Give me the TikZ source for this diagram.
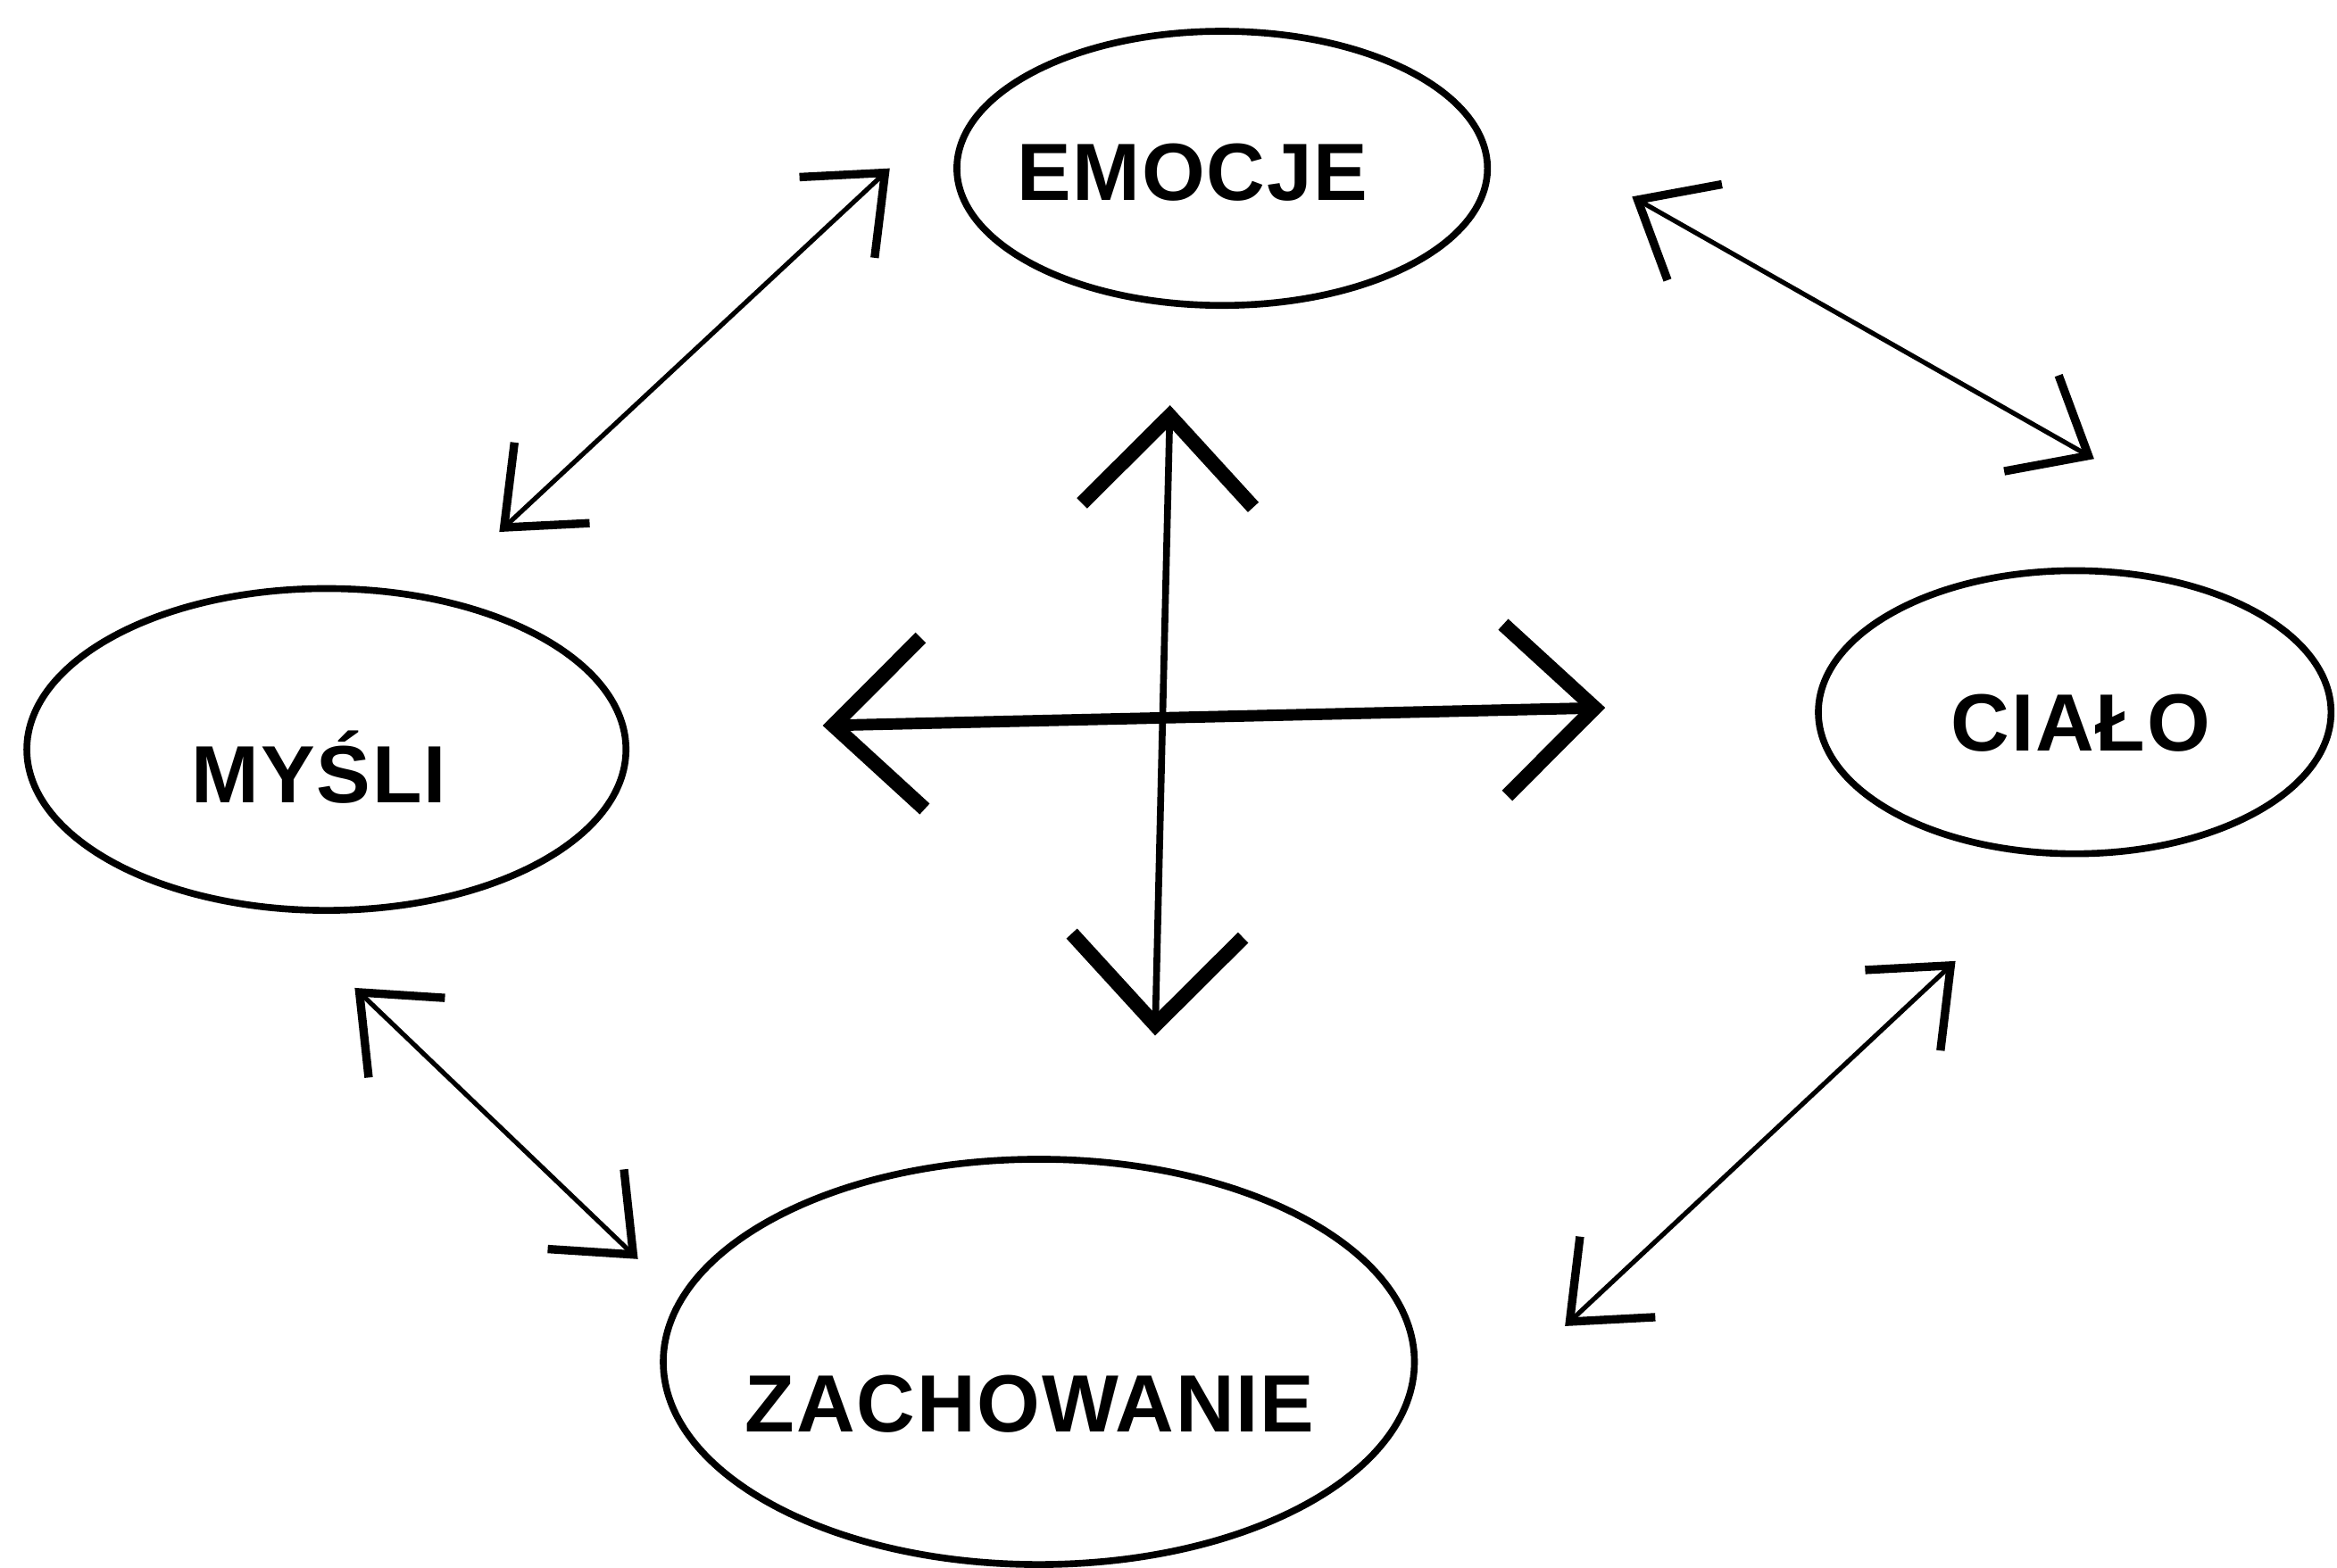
\documentclass[tikz,border=0pt]{standalone}
\usepackage{fontspec}
\setmainfont{Liberation Sans}[LetterSpace=2]
\usetikzlibrary{arrows.meta,shapes.geometric}

\begin{document}
\begin{tikzpicture}[
  bubble/.style={draw, ellipse, line width=1.3pt, inner sep=0pt},
  word/.style={font=\fontsize{15.5}{18}\selectfont\bfseries, inner sep=0pt},
  link/.style={{Straight Barb[length=0.44cm, width=0.74cm, line width=1.6pt]}-{Straight Barb[length=0.44cm, width=0.74cm, line width=1.6pt]}, line width=0.9pt},
  axis/.style={{Straight Barb[length=0.6cm, width=1.15cm, line width=2.8pt]}-{Straight Barb[length=0.6cm, width=1.15cm, line width=2.8pt]}},
]
  \useasboundingbox (0,0) rectangle (15.68,10.52);

  % Emocje
  \node[bubble, minimum width=3.56cm, minimum height=1.84cm] (emo) at (8.20,9.39) {};
  \node[word] (emoT) at (8.00,9.36) {EMOCJE};

  % Cialo
  \node[bubble, minimum width=3.44cm, minimum height=1.90cm] (cia) at (13.92,5.74) {};
  \node[word] (ciaT) at (13.96,5.67) {CIAŁO};

  % Mysli
  \node[bubble, minimum width=4.02cm, minimum height=2.16cm] (mys) at (2.19,5.49) {};
  \node[word] (mysT) at (2.14,5.37) {MYŚLI};

  % Zachowanie
  \node[bubble, minimum width=5.04cm, minimum height=2.72cm] (zach) at (6.97,1.38) {};
  \node[word] (zachT) at (6.91,1.10) {ZACHOWANIE};

  % arrow ends
  \coordinate (emoL) at (5.97,9.39);
  \coordinate (emoR) at (10.95,9.20);
  \coordinate (ciaT1) at (14.05,7.44);
  \coordinate (ciaB) at (13.12,4.07);
  \coordinate (mysT1) at (3.35,6.95);
  \coordinate (mysB) at (2.38,3.89);
  \coordinate (zachL) at (4.28,2.07);
  \coordinate (zachR) at (10.50,1.62);

  % Arrows
  \draw[link] (emoL) -- (mysT1);
  \draw[link] (emoR) -- (ciaT1);
  \draw[link] (mysB) -- (zachL);
  \draw[link] (ciaB) -- (zachR);

  % Cross
  \coordinate (up) at (7.85,7.80);
  \coordinate (down) at (7.75,3.57);
  \coordinate (left) at (5.52,5.65);
  \coordinate (right) at (10.77,5.77);
  \draw[axis, line width=1.3pt] (up) -- (down);
  \draw[axis, line width=2.2pt] (left) -- (right);

\end{tikzpicture}
\end{document}
